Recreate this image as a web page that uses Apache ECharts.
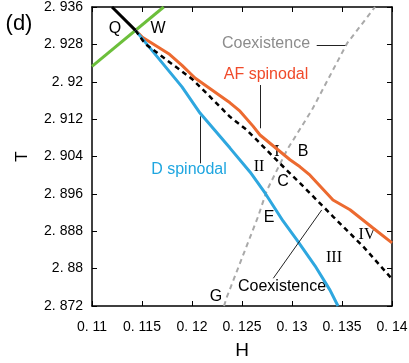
<!DOCTYPE html>
<html>
<head>
<meta charset="utf-8">
<script src="https://cdn.jsdelivr.net/npm/echarts@6/dist/echarts.min.js"></script>
<style>
  html, body { margin: 0; padding: 0; background: #fff; }
  #chart { width: 409px; height: 363px; }
</style>
</head>
<body>
<div id="chart"></div>
<script>
// axis ranges
const hMin = 0.11, hMax = 0.14, hStep = 0.005
const tMin = 2.872, tMax = 2.936, tStep = 0.008

// curves, [H, T]
const greenLine  = [[0.11, 2.9233], [0.11717, 2.936]]
const blackLine  = [[0.1120, 2.936], [0.11435, 2.9310]]
const afSpinodal = [[0.11435, 2.9310], [0.1150, 2.9296], [0.11767, 2.9260], [0.1190, 2.9235], [0.1203, 2.9208],
                    [0.1238, 2.9155], [0.1248, 2.9137], [0.1261, 2.9105], [0.1268, 2.9086], [0.1298, 2.9033],
                    [0.1308, 2.9018], [0.1318, 2.9000], [0.1341, 2.8947], [0.1358, 2.8926], [0.1381, 2.8887],
                    [0.14, 2.8855]]
const coexLine   = [[0.11435, 2.9310], [0.11533, 2.9281], [0.1200, 2.9206], [0.12147, 2.9175], [0.1238, 2.9125],
                    [0.12547, 2.9097], [0.1288, 2.9025], [0.1308, 2.8983], [0.13413, 2.8911], [0.13713, 2.8847],
                    [0.14, 2.8778]]
const dSpinodal  = [[0.11435, 2.9310], [0.1190, 2.9189], [0.1208, 2.9133], [0.1238, 2.9058], [0.1258, 2.9007],
                    [0.1273, 2.8962], [0.1291, 2.8902], [0.1305, 2.8861], [0.1323, 2.8806], [0.1338, 2.8754],
                    [0.1346, 2.872]]
const grayCoex   = [[0.1232, 2.872], [0.1235, 2.8740], [0.1266, 2.8911], [0.1275, 2.8968], [0.1295, 2.9054],
                    [0.1320, 2.9140], [0.1355, 2.9282], [0.1383, 2.936]]

// annotation arrows, [from, to] in [H, T]
const arrows = [
    { from: [0.13247, 2.92787], to: [0.13533, 2.92787] },
    { from: [0.12687, 2.91930], to: [0.12687, 2.91004] },
    { from: [0.1208, 2.90254],  to: [0.1208, 2.91260] },
    { from: [0.12813, 2.87793], to: [0.13297, 2.89255] },
]

const chart = echarts.init(document.getElementById('chart'))

const fmt = v => String(+(+v).toFixed(3)).replace('.', '. ')

function curve(data, color, width, type) {
    return {
        type: 'line', data, showSymbol: false, silent: true,
        lineStyle: { color, width, type: type || 'solid' },
        itemStyle: { color },
        xAxisIndex: 0, yAxisIndex: 0, z: 3
    }
}

function txt(x, y, s, size, color, serif) {
    return {
        type: 'text', x, y,
        style: {
            text: s, fill: color || '#000', align: 'center', verticalAlign: 'middle',
            font: size + 'px ' + (serif ? '"Liberation Serif", serif' : '"Liberation Sans", Arial, sans-serif')
        }
    }
}

const axisCommon = {
    type: 'value',
    axisLine: { show: true, lineStyle: { color: '#000', width: 1.5 } },
    axisTick: { show: true, inside: true, length: 5, lineStyle: { color: '#000', width: 1 } },
    splitLine: { show: false }
}

// arrows hang off the gray series as a markLine
const graySeries = curve(grayCoex, '#a9a9a9', 2, [5, 4])
graySeries.markLine = {
    silent: true, animation: false,
    symbol: ['none', 'arrow'], symbolSize: [0, 8],
    label: { show: false },
    lineStyle: { color: '#222', width: 1, type: 'solid' },
    data: arrows.map(a => [{ coord: a.from }, { coord: a.to }])
}

chart.setOption({
    animation: false,
    grid: { left: 92, right: 17, top: 7, bottom: 57, outerBoundsMode: 'none', containLabel: false },
    xAxis: [
        Object.assign({}, axisCommon, {
            min: hMin, max: hMax, interval: hStep,
            name: 'H', nameLocation: 'middle', nameGap: 35,
            nameTextStyle: { color: '#000', fontSize: 19, fontFamily: 'Liberation Sans' },
            axisLabel: { formatter: fmt, color: '#000', fontSize: 14, margin: 14, fontFamily: 'Liberation Sans' }
        }),
        Object.assign({}, axisCommon, {
            position: 'top', min: hMin, max: hMax, interval: hStep, axisLabel: { show: false }
        })
    ],
    yAxis: [
        Object.assign({}, axisCommon, {
            min: tMin, max: tMax, interval: tStep,
            name: 'T', nameLocation: 'middle', nameGap: 61,
            nameTextStyle: { color: '#000', fontSize: 17, fontFamily: 'Liberation Sans' },
            axisLabel: { formatter: fmt, color: '#000', fontSize: 14, margin: 9, fontFamily: 'Liberation Sans' }
        }),
        Object.assign({}, axisCommon, {
            position: 'right', min: tMin, max: tMax, interval: tStep, axisLabel: { show: false }
        })
    ],
    series: [
        graySeries,
        curve(greenLine, '#6cbf3b', 3),
        curve(blackLine, '#000', 3),
        curve(afSpinodal, '#ec6a30', 3),
        curve(dSpinodal, '#2ea7df', 3),
        curve(coexLine, '#000', 2.5, [5, 4])
    ],
    graphic: [
        txt(19, 24, '(d)', 22),
        txt(115, 29, 'Q', 16),
        txt(158, 29, 'W', 16),
        txt(266, 44, 'Coexistence', 16, '#8c8c8c'),
        txt(266, 75, 'AF spinodal', 16, '#f04a2a'),
        txt(189, 170, 'D spinodal', 16, '#1fa6e0'),
        txt(259, 167, 'II', 16, '#000', true),
        txt(277, 152, 'I', 16, '#000', true),
        txt(303, 152, 'B', 16),
        txt(283, 182, 'C', 16),
        txt(269, 218, 'E', 16),
        txt(367, 235, 'IV', 16, '#000', true),
        txt(334, 258, 'III', 16, '#000', true),
        txt(282, 287, 'Coexistence', 16),
        txt(216, 297, 'G', 16)
    ]
})
</script>
</body>
</html>
